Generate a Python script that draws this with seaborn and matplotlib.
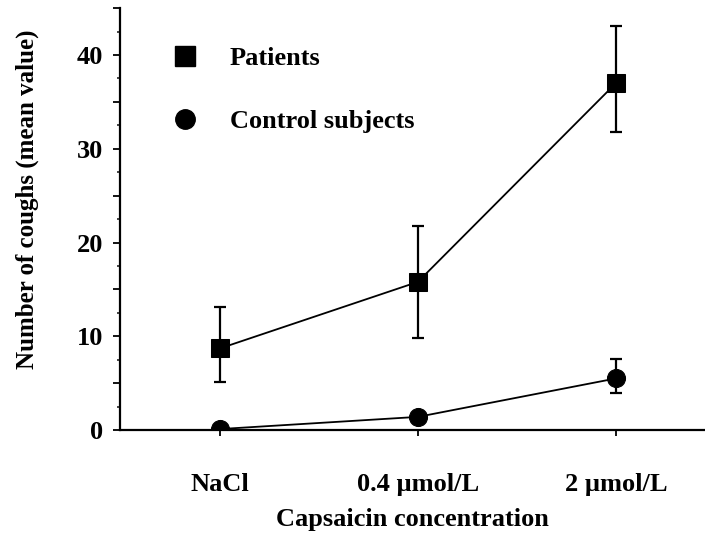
import numpy as np
import pandas as pd
import matplotlib
matplotlib.use("Agg")
from matplotlib import pyplot as plt
from matplotlib.ticker import MultipleLocator, FuncFormatter
import seaborn as sns

sns.set_theme(style="ticks", context="paper")
plt.rcParams['font.family'] = ['Liberation Serif', 'DejaVu Serif']
plt.rcParams['font.weight'] = 'bold'
plt.rcParams['text.color'] = 'black'
plt.rcParams['axes.labelcolor'] = 'black'

# Data
concentrations = ["NaCl", "0.4 \u00b5mol/L", "2 \u00b5mol/L"]
patients_mean = [8.7, 15.8, 37.0]
patients_low = [5.1, 9.8, 31.8]
patients_high = [13.1, 21.8, 43.1]
controls_mean = [0.1, 1.4, 5.5]
controls_low = [0.1, 1.4, 3.9]
controls_high = [0.1, 1.4, 7.6]

df = pd.DataFrame({
    "x": list(range(len(concentrations))) * 2,
    "coughs": patients_mean + controls_mean,
    "group": ["Patients"] * 3 + ["Control subjects"] * 3,
})

fig, ax = plt.subplots(figsize=(7.05, 5.45), dpi=100)
fig.subplots_adjust(left=0.170, right=1.0, bottom=0.211, top=0.985)

sns.lineplot(data=df, x="x", y="coughs", hue="group", style="group",
             markers={"Patients": "s", "Control subjects": "o"}, dashes=False,
             palette={"Patients": "black", "Control subjects": "black"},
             markersize=13, linewidth=1.3, markeredgecolor="black",
             legend=False, ax=ax, zorder=3)

xs = np.arange(len(concentrations))
for mean, low, high in [(patients_mean, patients_low, patients_high),
                        (controls_mean, controls_low, controls_high)]:
    mean = np.array(mean)
    yerr = np.vstack([mean - np.array(low), np.array(high) - mean])
    ax.errorbar(xs, mean, yerr=yerr, fmt="none", ecolor="black",
                elinewidth=1.6, capsize=4, capthick=1.6, zorder=2)

ax.set_xlim(-0.505, 2.45)
ax.set_ylim(0, 45)
ax.set_xticks(xs)
ax.set_xticklabels(concentrations)
ax.yaxis.set_major_locator(MultipleLocator(5))
ax.yaxis.set_minor_locator(MultipleLocator(2.5))
ax.yaxis.set_major_formatter(FuncFormatter(lambda v, p: f"{int(v)}" if v % 10 == 0 else ""))

ax.tick_params(axis="y", which="major", length=5, width=1.3, pad=7,
               labelsize=19, colors="black", direction="out")
ax.tick_params(axis="y", which="minor", length=2.5, width=1.2, direction="out")
ax.tick_params(axis="x", length=4, width=1.3, pad=27, labelsize=19,
               colors="black", direction="out")

ax.spines['top'].set_visible(False)
ax.spines['right'].set_visible(False)
ax.spines['left'].set_linewidth(1.6)
ax.spines['bottom'].set_linewidth(1.6)
ax.spines['left'].set_color("black")
ax.spines['bottom'].set_color("black")

ax.set_xlabel("Capsaicin concentration", fontsize=19, fontweight="bold")
ax.set_ylabel("Number of coughs (mean value)", fontsize=18, fontweight="bold")
ax.xaxis.set_label_coords(0.5, -0.185)
ax.yaxis.set_label_coords(-0.158, 0.547)
ax.yaxis.label.set_verticalalignment("center")

# Legend with marker-only handles
handles = [
    plt.Line2D([], [], marker="s", color="black", linestyle="none", markersize=14),
    plt.Line2D([], [], marker="o", color="black", linestyle="none", markersize=14),
]
ax.legend(handles, ["Patients", "Control subjects"], frameon=False,
          loc="upper left", bbox_to_anchor=(0.048, 0.965), prop={"size": 19, "weight": "bold"},
          labelspacing=1.5, handletextpad=1.2, handlelength=1.0)

fig.savefig("out.png", dpi=100)
